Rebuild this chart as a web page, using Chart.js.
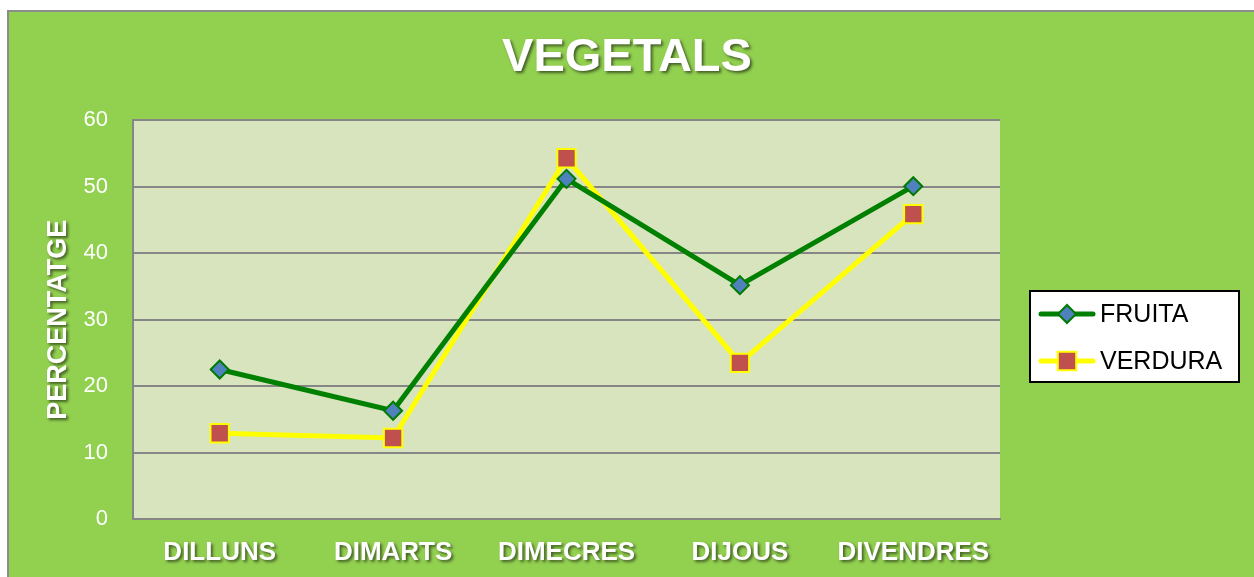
<!DOCTYPE html>
<html>
<head>
<meta charset="utf-8">
<script src="https://cdn.jsdelivr.net/npm/chart.js@4/dist/chart.umd.min.js"></script>
<style>
  html, body { margin: 0; padding: 0; background: #fff; }
  #wrap { position: absolute; left: 0; top: 0; width: 1254px; height: 577px; }
</style>
</head>
<body>
<div id="wrap"><canvas id="mainChart" width="1254" height="577"></canvas></div>
<script>
;(function (window, document, Chart){
  var days = ['DILLUNS', 'DIMARTS', 'DIMECRES', 'DIJOUS', 'DIVENDRES']
  var fruita = [22.5, 16.3, 51.2, 35.2, 50.1]
  var verdura = [12.9, 12.2, 54.3, 23.5, 45.9]
  var yTicks = [0, 10, 20, 30, 40, 50, 60]

  var FONT = '"Liberation Sans", Arial, sans-serif'

  // fills page, grey frame and plot background
  var backdrop = {
    id: 'backdrop',
    beforeDraw: function (chart) {
      var ctx = chart.ctx
      var a = chart.chartArea
      ctx.save()
      ctx.fillStyle = '#ffffff'
      ctx.fillRect(0, 0, chart.width, chart.height)
      ctx.fillStyle = '#8c8c8c'
      ctx.fillRect(7, 10, chart.width - 7, chart.height - 10)
      ctx.fillStyle = '#92d050'
      ctx.fillRect(9, 12, chart.width - 9, chart.height - 12)
      ctx.fillStyle = '#d7e4bd'
      ctx.fillRect(a.left, a.top, a.right - a.left, a.bottom - a.top)
      ctx.restore()
    }
  }

  // wraps a draw method so it paints with a drop shadow
  function withShadow (obj, name) {
    if (!obj || obj['_sh_' + name]) return
    var orig = obj[name]
    obj[name] = function () {
      var ctx = this.ctx
      ctx.save()
      ctx.shadowColor = 'rgba(0,0,0,0.55)'
      ctx.shadowOffsetX = 2
      ctx.shadowOffsetY = 2
      ctx.shadowBlur = 3
      orig.apply(this, arguments)
      ctx.restore()
    }
    obj['_sh_' + name] = true
  }

  var shadows = {
    id: 'shadows',
    beforeDraw: function (chart) {
      withShadow(chart.titleBlock, 'draw')
      withShadow(chart.scales.x, 'drawLabels')
      withShadow(chart.scales.y, 'drawTitle')
    }
  }

  // sample glyph for legend: line with marker
  function sampleFor (ds) {
    var c = document.createElement('canvas')
    c.width = 58
    c.height = 24
    var g = c.getContext('2d')
    g.strokeStyle = ds.borderColor
    g.lineWidth = 5
    g.lineCap = 'round'
    g.beginPath()
    g.moveTo(3, 12)
    g.lineTo(55, 12)
    g.stroke()
    g.fillStyle = ds.pointBackgroundColor
    g.strokeStyle = ds.pointBorderColor
    g.lineWidth = ds.pointBorderWidth
    g.beginPath()
    if (ds.pointStyle === 'rectRot') {
      var r = ds.pointRadius
      g.moveTo(29 - r, 12); g.lineTo(29, 12 - r); g.lineTo(29 + r, 12); g.lineTo(29, 12 + r)
    } else {
      var s = ds.pointRadius * Math.SQRT1_2
      g.rect(29 - s, 12 - s, 2 * s, 2 * s)
    }
    g.closePath()
    g.fill()
    g.stroke()
    return c
  }

  var legendBox = {
    id: 'legendBox',
    afterDraw: function (chart) {
      var ctx = chart.ctx
      var x = 1030, y = 291, w = 209, h = 91
      ctx.save()
      ctx.fillStyle = '#ffffff'
      ctx.fillRect(x, y, w, h)
      ctx.strokeStyle = '#000000'
      ctx.lineWidth = 2
      ctx.strokeRect(x, y, w, h)
      ctx.font = '25px ' + FONT
      ctx.fillStyle = '#000000'
      ctx.textBaseline = 'middle'
      chart.data.datasets.forEach(function (ds, i) {
        var cy = 314 + i * 47
        ctx.drawImage(sampleFor(ds), 1038, cy - 12)
        ctx.fillText(ds.label, 1100, cy + 1)
      })
      ctx.restore()
    }
  }

  var ctxMain = document.getElementById('mainChart').getContext('2d')

  var mainChart = new Chart(ctxMain, {
    type: 'line',
    data: {
      labels: days,
      datasets: [
        {
          label: 'FRUITA',
          data: fruita,
          borderColor: '#008000',
          borderWidth: 5,
          pointStyle: 'rectRot',
          pointRadius: 9,
          pointBorderWidth: 2,
          pointBackgroundColor: '#4f81bd',
          pointBorderColor: '#007a00',
          tension: 0
        },
        {
          label: 'VERDURA',
          data: verdura,
          borderColor: '#ffff00',
          borderWidth: 5,
          pointStyle: 'rect',
          pointRadius: 13,
          pointBorderWidth: 2,
          pointBackgroundColor: '#c0504d',
          pointBorderColor: '#ffff00',
          tension: 0
        }
      ]
    },
    options: {
      responsive: false,
      animation: false,
      layout: { padding: 0 },
      plugins: {
        legend: { display: false },
        tooltip: { enabled: false },
        title: {
          display: true,
          text: 'VEGETALS',
          color: '#ffffff',
          font: { family: FONT, size: 47, weight: 'bold', lineHeight: 1.2 },
          padding: { top: 30, bottom: 34 }
        }
      },
      scales: {
        x: {
          offset: true,
          grid: { display: false, drawTicks: false },
          border: { display: true, color: '#868686', width: 2 },
          ticks: {
            color: '#ffffff',
            padding: 18,
            maxRotation: 0,
            font: { family: FONT, size: 26, weight: 'bold' }
          },
          afterFit: function (scale) { scale.height = 58 }
        },
        y: {
          min: 0,
          max: 60,
          afterBuildTicks: function (scale) {
            scale.ticks = yTicks.map(function (v) { return { value: v } })
          },
          grid: { color: '#868686', lineWidth: 2, drawTicks: false },
          border: { display: true, color: '#868686', width: 2 },
          ticks: {
            color: '#ffffff',
            padding: 25,
            font: { family: FONT, size: 22 }
          },
          title: {
            display: true,
            text: 'PERCENTATGE',
            color: '#ffffff',
            font: { family: FONT, size: 27, weight: 'bold', lineHeight: 1.2 },
            padding: { top: 42, bottom: 0 }
          },
          afterFit: function (scale) { scale.width = 133 }
        },
        // empty right column that holds room for the legend
        side: {
          position: 'right',
          min: 0,
          max: 60,
          grid: { display: false, drawTicks: false },
          border: { display: false },
          ticks: { display: false },
          afterFit: function (scale) { scale.width = 254 }
        }
      }
    },
    plugins: [backdrop, shadows, legendBox]
  })

  // DEBUG
  window.mainChart = mainChart

})(window, document, Chart);
</script>
</body>
</html>
